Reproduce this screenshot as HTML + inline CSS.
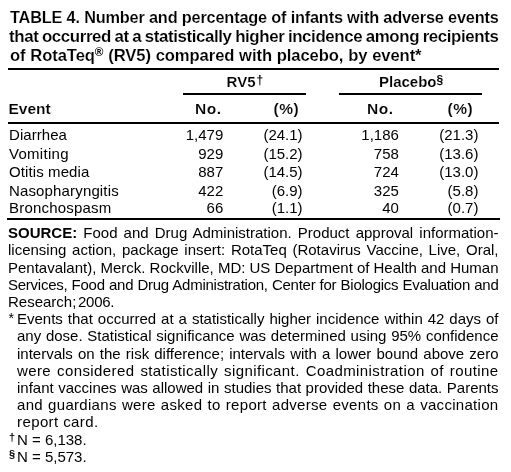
<!DOCTYPE html>
<html><head><meta charset="utf-8">
<style>
html,body{margin:0;padding:0;background:#fff;width:511px;height:472px;overflow:hidden;position:relative;}
body{font-family:"Liberation Sans",sans-serif;color:#000;filter:grayscale(1);}
div{position:absolute;white-space:nowrap;}
.t{font-size:15px;line-height:20px;height:20px;}
.tt{-webkit-text-stroke:0.15px #fff;font-weight:bold;font-size:17px;line-height:20px;height:20px;transform-origin:0 0;letter-spacing:-0.4px;word-spacing:-2px;}
.bold{font-weight:bold;}
.hd{-webkit-text-stroke:0.15px #fff;}
.ra{text-align:right;width:100px;}
.rule{background:#000;}
.j{font-size:15px;line-height:20px;height:20px;text-align:justify;text-align-last:justify;}
sup{vertical-align:0;position:relative;}
.reg{font-size:12px;top:-5px;font-weight:bold;letter-spacing:0;-webkit-text-stroke:0;}
.dag{font-size:11px;top:-5px;font-weight:normal;}
</style></head><body>

<div class="tt" style="left:9.78px;top:8px;transform:scaleX(0.96);letter-spacing:-0.2px;word-spacing:0px;">TABLE 4. Number and percentage of infants with adverse events</div>
<div class="tt" style="left:8.94px;top:27px;transform:scaleX(0.993);letter-spacing:-0.4px;word-spacing:-0.75px;">that occurred at a statistically higher incidence among recipients</div>
<div class="tt" style="left:9.81px;top:46px;transform:scaleX(0.978);letter-spacing:-0.1px;word-spacing:0.25px;">of RotaTeq<sup class='reg'>®</sup> (RV5) compared with placebo, by event*</div>
<div class="rule" style="left:8px;top:68px;width:491px;height:2px;"></div>
<div class="t bold hd" style="left:226.6px;top:72px;">RV5</div>
<div class="t bold" style="left:256.5px;top:70px;font-size:12px;">†</div>
<div class="t bold hd" style="left:379px;top:72px;">Placebo</div>
<div class="t bold" style="left:436.5px;top:70px;font-size:12px;">§</div>
<div class="rule" style="left:183px;top:93px;width:123px;height:2px;"></div>
<div class="rule" style="left:339px;top:93px;width:143px;height:2px;"></div>
<div class="t bold hd" style="left:8.5px;top:99px;font-size:15.5px;">Event</div>
<div class="t bold hd" style="left:195px;top:99px;font-size:15.5px;letter-spacing:0.6px;">No.</div>
<div class="t bold hd" style="left:273.5px;top:99px;font-size:15.5px;letter-spacing:0.5px;">(%)</div>
<div class="t bold hd" style="left:367px;top:99px;font-size:15.5px;letter-spacing:0.6px;">No.</div>
<div class="t bold hd" style="left:447.5px;top:99px;font-size:15.5px;letter-spacing:0.5px;">(%)</div>
<div class="rule" style="left:8px;top:122px;width:491px;height:2px;"></div>
<div class="t" style="left:9px;top:125px;letter-spacing:0.05px;">Diarrhea</div>
<div class="t ra" style="left:123.3px;top:125px;">1,479</div>
<div class="t ra" style="left:202.6px;top:125px;">(24.1)</div>
<div class="t ra" style="left:298.9px;top:125px;">1,186</div>
<div class="t ra" style="left:378.4px;top:125px;">(21.3)</div>
<div class="t" style="left:9px;top:144px;letter-spacing:0.28px;">Vomiting</div>
<div class="t ra" style="left:123.3px;top:144px;">929</div>
<div class="t ra" style="left:202.6px;top:144px;">(15.2)</div>
<div class="t ra" style="left:298.9px;top:144px;">758</div>
<div class="t ra" style="left:378.4px;top:144px;">(13.6)</div>
<div class="t" style="left:9px;top:162px;letter-spacing:0.1px;">Otitis media</div>
<div class="t ra" style="left:123.3px;top:162px;">887</div>
<div class="t ra" style="left:202.6px;top:162px;">(14.5)</div>
<div class="t ra" style="left:298.9px;top:162px;">724</div>
<div class="t ra" style="left:378.4px;top:162px;">(13.0)</div>
<div class="t" style="left:9px;top:181px;letter-spacing:0.15px;">Nasopharyngitis</div>
<div class="t ra" style="left:123.3px;top:181px;">422</div>
<div class="t ra" style="left:202.6px;top:181px;">(6.9)</div>
<div class="t ra" style="left:298.9px;top:181px;">325</div>
<div class="t ra" style="left:378.4px;top:181px;">(5.8)</div>
<div class="t" style="left:9px;top:198px;letter-spacing:0.2px;">Bronchospasm</div>
<div class="t ra" style="left:123.3px;top:198px;">66</div>
<div class="t ra" style="left:202.6px;top:198px;">(1.1)</div>
<div class="t ra" style="left:298.9px;top:198px;">40</div>
<div class="t ra" style="left:378.4px;top:198px;">(0.7)</div>
<div class="rule" style="left:7px;top:218px;width:493px;height:2px;"></div>
<div class="j" style="left:8px;width:490.5px;top:223px;"><b>SOURCE:</b> Food and Drug Administration. Product approval information-</div>
<div class="j" style="left:8px;width:490.5px;top:240px;">licensing action, package insert: RotaTeq (Rotavirus Vaccine, Live, Oral,</div>
<div class="j" style="left:8px;width:490.5px;top:258px;word-spacing:-0.3px;">Pentavalant), Merck. Rockville, MD: US Department of Health and Human</div>
<div class="j" style="left:8px;width:490.5px;top:275px;letter-spacing:-0.25px;">Services, Food and Drug Administration, Center for Biologics Evaluation and</div>
<div class="t" style="left:8px;top:292px;">Research;<span style='margin-left:-2.5px'> </span><span style='letter-spacing:-0.3px'>2006.</span></div>
<div class="j" style="left:17px;width:481.5px;top:309px;">Events that occurred at a statistically higher incidence within 42 days of</div>
<div class="j" style="left:17px;width:481.5px;top:326px;">any dose. Statistical significance was determined using 95% confidence</div>
<div class="j" style="left:17px;width:481.5px;top:344px;">intervals on the risk difference; intervals with a lower bound above zero</div>
<div class="j" style="left:17px;width:481.5px;top:361px;letter-spacing:0.4px;">were considered statistically significant. Coadministration of routine</div>
<div class="j" style="left:17px;width:481.5px;top:378px;">infant vaccines was allowed in studies that provided these data. Parents</div>
<div class="j" style="left:17px;width:481.5px;top:395px;letter-spacing:0.3px;">and guardians were asked to report adverse events on a vaccination</div>
<div class="t" style="left:17px;top:412px;"><span style='letter-spacing:0.4px'>report card.</span></div>
<div class="t" style="left:17px;top:430px;">N = 6,138.</div>
<div class="t" style="left:17px;top:447px;">N = 5,573.</div>
<div class="t" style="left:8.5px;top:308px;font-size:14px;">*</div>
<div class="t bold" style="left:9px;top:427px;font-size:11px;">†</div>
<div class="t bold" style="left:9px;top:444px;font-size:11px;">§</div>
</body></html>
